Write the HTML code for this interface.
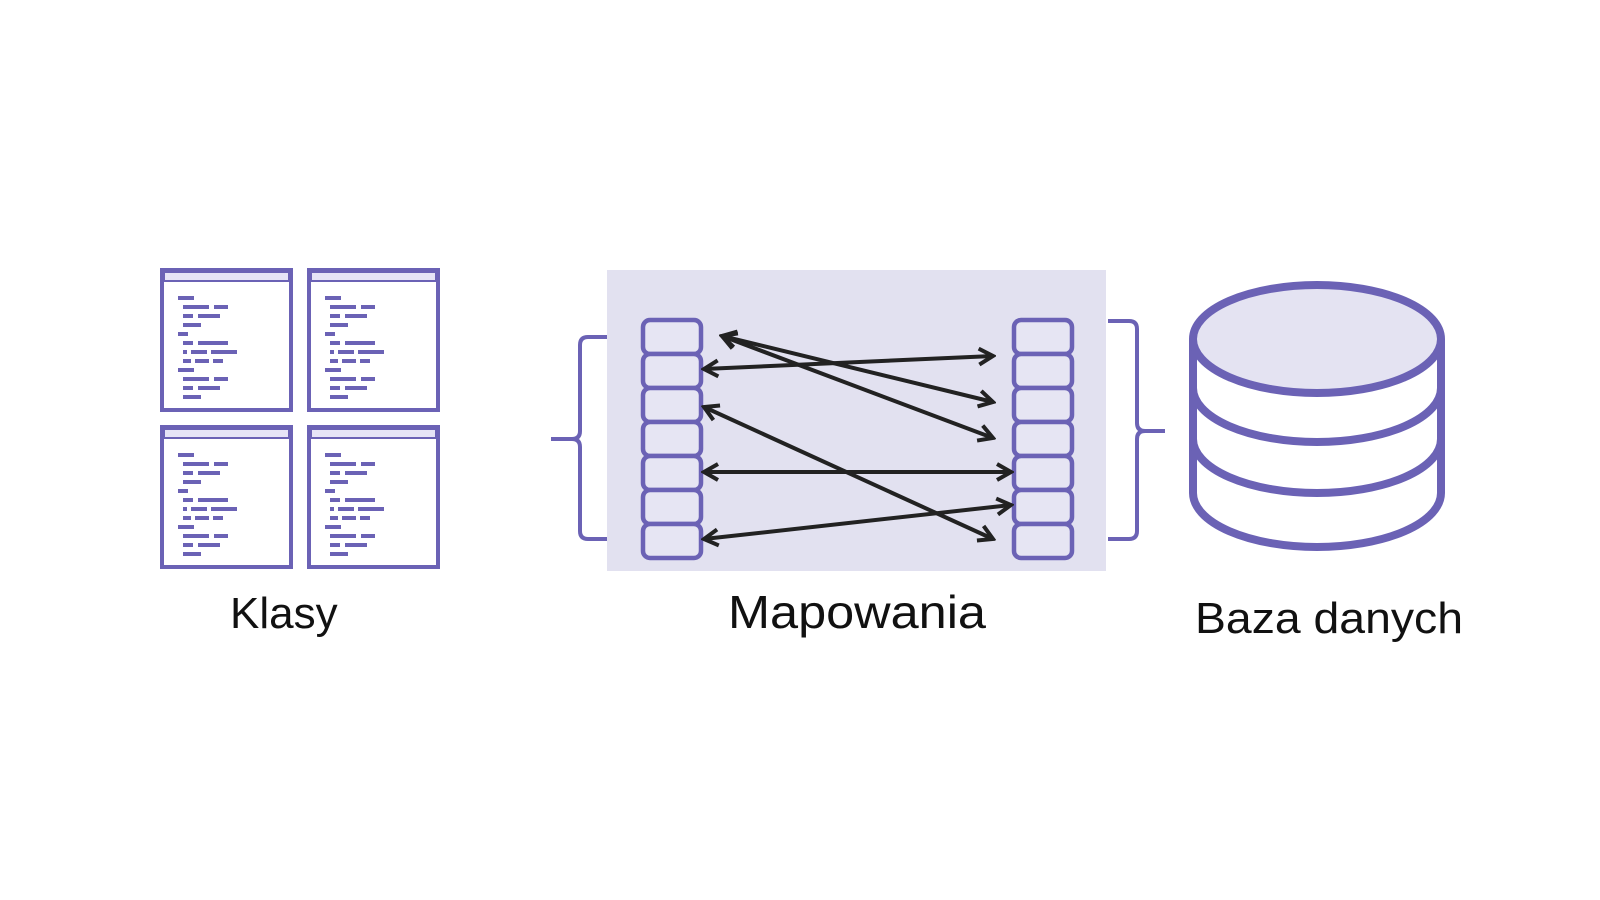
<!DOCTYPE html>
<html><head><meta charset="utf-8"><style>
html,body{margin:0;padding:0;background:#fff;width:1600px;height:900px;overflow:hidden}
svg{position:absolute;left:0;top:0}
.t{font-family:"Liberation Sans",sans-serif;font-size:44px;fill:#111}
</style></head><body>
<svg width="1600" height="900" viewBox="0 0 1600 900">
<defs>
<g id="win">
<rect x="2" y="2" width="129" height="140" fill="#fff" stroke="#6b62b5" stroke-width="4"/>
<rect x="4" y="4" width="125" height="9" fill="#e6e4f6" stroke="#6b62b5" stroke-width="2"/>
<g fill="#6b62b5">
<rect x="18" y="28" width="16" height="4"/>
<rect x="23" y="37" width="26" height="4"/><rect x="54" y="37" width="14" height="4"/>
<rect x="23" y="46" width="10" height="4"/><rect x="38" y="46" width="22" height="4"/>
<rect x="23" y="55" width="18" height="4"/>
<rect x="18" y="64" width="10" height="4"/>
<rect x="23" y="73" width="10" height="4"/><rect x="38" y="73" width="30" height="4"/>
<rect x="23" y="82" width="4" height="4"/><rect x="31" y="82" width="16" height="4"/><rect x="51" y="82" width="26" height="4"/>
<rect x="23" y="91" width="8" height="4"/><rect x="35" y="91" width="14" height="4"/><rect x="53" y="91" width="10" height="4"/>
<rect x="18" y="100" width="16" height="4"/>
<rect x="23" y="109" width="26" height="4"/><rect x="54" y="109" width="14" height="4"/>
<rect x="23" y="118" width="10" height="4"/><rect x="38" y="118" width="22" height="4"/>
<rect x="23" y="127" width="18" height="4"/>
</g>
</g>
<marker id="ah" markerWidth="20" markerHeight="20" refX="17" refY="10" orient="auto-start-reverse" markerUnits="userSpaceOnUse" viewBox="0 0 20 20">
<path d="M3,2 L17,10 L3,18" fill="none" stroke="#222" stroke-width="4"/>
</marker>
<g id="cells" fill="#e6e5f3" stroke="#6b62b5" stroke-width="4.5">
<rect x="0" y="0" width="58" height="34" rx="7"/>
<rect x="0" y="34" width="58" height="34" rx="7"/>
<rect x="0" y="68" width="58" height="34" rx="7"/>
<rect x="0" y="102" width="58" height="34" rx="7"/>
<rect x="0" y="136" width="58" height="34" rx="7"/>
<rect x="0" y="170" width="58" height="34" rx="7"/>
<rect x="0" y="204" width="58" height="34" rx="7"/>
</g>
</defs>

<use href="#win" x="160" y="268"/>
<use href="#win" x="307" y="268"/>
<use href="#win" x="160" y="425"/>
<use href="#win" x="307" y="425"/>
<text class="t" x="230" y="628">Klasy</text>

<rect x="607" y="270" width="499" height="301" fill="#e2e1f0"/>
<path d="M607,337 H588 Q580,337 580,345 V431 Q580,439 572,439 H551 M572,439 Q580,439 580,447 V531 Q580,539 588,539 H607" fill="none" stroke="#6b62b5" stroke-width="4"/>
<path d="M1108,321 H1129 Q1137,321 1137,329 V423 Q1137,431 1145,431 H1165 M1145,431 Q1137,431 1137,439 V531 Q1137,539 1129,539 H1108" fill="none" stroke="#6b62b5" stroke-width="4"/>
<use href="#cells" x="643" y="320"/>
<use href="#cells" x="1014" y="320"/>
<g stroke="#222" stroke-width="4" fill="none" marker-start="url(#ah)" marker-end="url(#ah)">
<line x1="704" y1="369" x2="993" y2="356"/>
<line x1="722" y1="336" x2="993" y2="402"/>
<line x1="722" y1="336" x2="993" y2="438"/>
<line x1="704" y1="407" x2="993" y2="539"/>
<line x1="704" y1="472" x2="1011" y2="472"/>
<line x1="704" y1="539" x2="1011" y2="505"/>
</g>
<text class="t" x="728" y="628" style="font-size:46px" textLength="258" lengthAdjust="spacingAndGlyphs">Mapowania</text>

<g fill="#fff" stroke="#6b62b5" stroke-width="8">
<path d="M1193,339 V493 A124,54 0 0 0 1441,493 V339"/>
<path d="M1193,439 A124,54 0 0 0 1441,439" fill="none"/>
<path d="M1193,388 A124,54 0 0 0 1441,388" fill="none"/>
<ellipse cx="1317" cy="339" rx="124" ry="54" fill="#e4e3f2"/>
</g>
<text class="t" x="1195" y="633" textLength="268" lengthAdjust="spacingAndGlyphs">Baza danych</text>
</svg>
</body></html>
